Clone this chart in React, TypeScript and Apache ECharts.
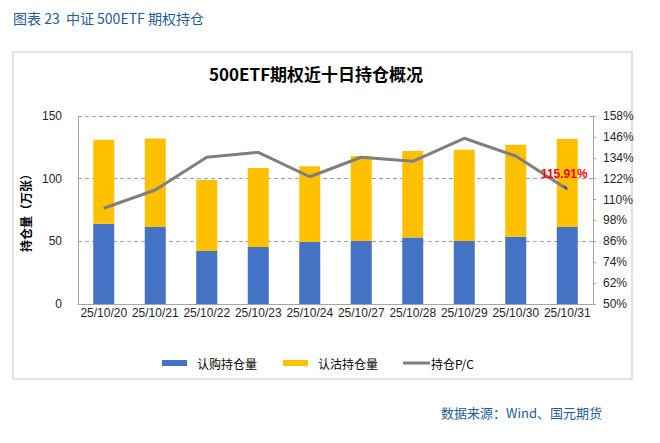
import React, { useEffect, useRef } from "react";
import * as echarts from "echarts";

const categories = [
  "25/10/20", "25/10/21", "25/10/22", "25/10/23", "25/10/24",
  "25/10/27", "25/10/28", "25/10/29", "25/10/30", "25/10/31",
];
const callOI = [64, 61.5, 42.3, 45.5, 49.5, 50.3, 53, 50.3, 53.7, 61.4];
const putOI = [67, 70.5, 56.7, 63, 60.5, 67.7, 69, 72.7, 73.3, 70.2];
const pcRatio = [105, 115.5, 134.3, 137.1, 123.1, 134.3, 132, 145.2, 135, 115.91];
const PC_BASE = 50;
const leftTicks = { min: 0, max: 150, interval: 50 };
const rightTicks = { min: 50, max: 158, interval: 12 };

export default function App() {
  const ref = useRef<HTMLDivElement>(null);
  useEffect(() => {
    document.body.style.margin = "0";
    const chart = echarts.init(ref.current!, undefined, { renderer: "svg" });
    const lastIdx = pcRatio.length - 1;
    const lineData = pcRatio.map((v, i) =>
      i === lastIdx
        ? {
            value: v - PC_BASE,
            symbol: "circle",
            symbolSize: 1,
            label: {
              show: true,
              position: "top",
              distance: 9,
              offset: [-3, 0],
              formatter: () => pcRatio[lastIdx].toFixed(2) + "%",
              color: "#FF0000",
              fontWeight: "bold",
              fontSize: 12,
              fontFamily: "Liberation Sans, Arial, sans-serif",
            },
            labelLine: { show: true, lineStyle: { color: "#000", width: 1 } },
          }
        : v - PC_BASE
    );
    const legendText = {
      fontSize: 12,
      color: "#000",
      fontFamily: "Noto Sans CJK SC, sans-serif",
    };
    chart.setOption({
      animation: false,
      backgroundColor: "#fff",
      textStyle: { fontFamily: "Liberation Sans, Arial, sans-serif" },
      graphic: [
        {
          type: "rect",
          shape: { x: 13, y: 52, width: 619, height: 327 },
          style: { fill: "none", stroke: "#d9d9d9", lineWidth: 1.5 },
          silent: true,
        },
        {
          type: "text",
          left: 13,
          top: 11,
          style: {
            text: "图表 23  中证 500ETF 期权持仓",
            fill: "#1F5C99",
            fontSize: 14,
            fontFamily: "Noto Sans CJK SC, sans-serif",
          },
        },
        {
          type: "text",
          left: 209,
          top: 65,
          style: {
            text: "500ETF期权近十日持仓概况",
            fill: "#000",
            fontSize: 17,
            fontWeight: "bold",
            fontFamily: "Noto Sans CJK SC, sans-serif",
          },
        },
        {
          type: "text",
          right: 58,
          top: 406,
          style: {
            text: "数据来源：Wind、国元期货",
            fill: "#1F5C99",
            fontSize: 13,
            fontFamily: "Noto Sans CJK SC, sans-serif",
          },
        },
      ],
      legend: [
        {
          data: ["认购持仓量"],
          left: 157,
          top: 352,
          itemWidth: 25,
          itemHeight: 6,
          icon: "rect",
          textStyle: { ...legendText, padding: [0, 0, 0, 5] },
          selectedMode: false,
        },
        {
          data: ["认沽持仓量"],
          left: 278,
          top: 352,
          itemWidth: 25,
          itemHeight: 6,
          icon: "rect",
          textStyle: { ...legendText, padding: [0, 0, 0, 5] },
          selectedMode: false,
        },
        {
          data: [{ name: "持仓P/C", icon: "rect", itemStyle: { color: "#7F7F7F" } }],
          left: 398,
          top: 352,
          itemWidth: 27,
          itemHeight: 3,
          textStyle: { ...legendText, padding: [0, 0, 0, -4] },
          selectedMode: false,
        },
      ],
      grid: { left: 78, right: 67, top: 116, bottom: 139 },
      xAxis: {
        type: "category",
        data: categories,
        axisLine: { lineStyle: { color: "#a6a6a6", width: 1 } },
        axisTick: { show: false },
        axisLabel: { interval: 0, fontSize: 12, color: "#262626", margin: 3 },
      },
      yAxis: [
        {
          type: "value",
          min: leftTicks.min,
          max: leftTicks.max,
          interval: leftTicks.interval,
          name: "持仓量（万张）",
          nameLocation: "middle",
          nameRotate: 90,
          nameGap: 44,
          nameTextStyle: {
            fontSize: 12,
            fontWeight: "bold",
            color: "#000",
            fontFamily: "Noto Sans CJK SC, sans-serif",
          },
          axisLine: { show: true, lineStyle: { color: "#a6a6a6" } },
          axisTick: { show: false },
          axisLabel: { fontSize: 12, color: "#262626", margin: 16 },
          splitLine: { lineStyle: { color: "#a0a0a0", type: [4, 3] } },
        },
        {
          type: "value",
          min: rightTicks.min - PC_BASE,
          max: rightTicks.max - PC_BASE,
          interval: rightTicks.interval,
          axisLine: { show: true, lineStyle: { color: "#a6a6a6" } },
          axisTick: { show: true, length: 3, lineStyle: { color: "#a6a6a6" } },
          axisLabel: {
            fontSize: 12,
            color: "#262626",
            margin: 10,
            formatter: (v: number) => Math.round(v + PC_BASE) + "%",
          },
          splitLine: { show: false },
        },
      ],
      series: [
        {
          name: "认购持仓量",
          type: "bar",
          stack: "oi",
          barWidth: 21,
          data: callOI,
          itemStyle: { color: "#4472C4" },
        },
        {
          name: "认沽持仓量",
          type: "bar",
          stack: "oi",
          barWidth: 21,
          data: putOI,
          itemStyle: { color: "#FFC000" },
        },
        {
          name: "持仓P/C",
          type: "line",
          yAxisIndex: 1,
          data: lineData,
          symbol: "none",
          lineStyle: { color: "#7F7F7F", width: 3 },
          itemStyle: { color: "#7F7F7F" },
          z: 5,
        },
      ],
    });
    return () => chart.dispose();
  }, []);
  return <div ref={ref} style={{ width: 660, height: 443 }} />;
}
